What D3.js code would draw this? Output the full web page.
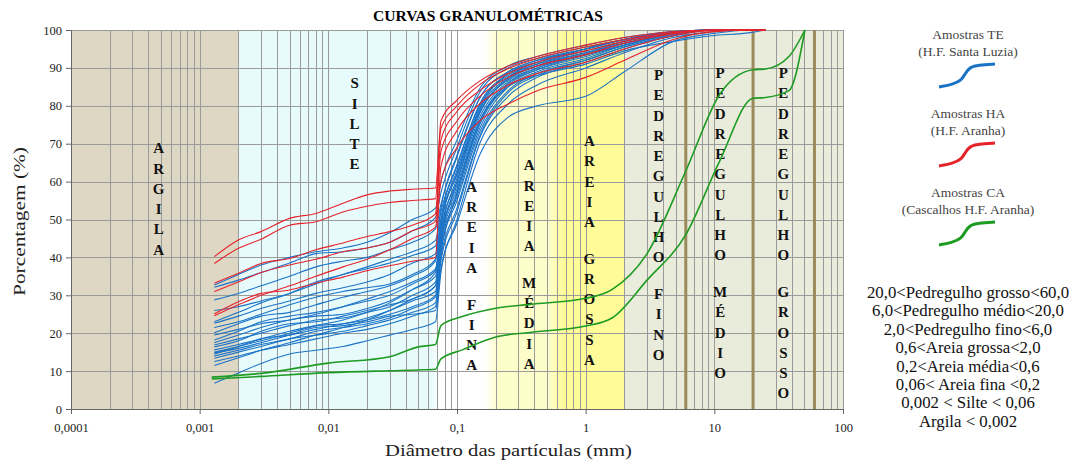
<!DOCTYPE html>
<html lang="pt">
<head>
<meta charset="UTF-8">
<title>Curvas granulométricas</title>
<script src="https://cdn.jsdelivr.net/npm/d3@7"></script>
<style>
  body { margin: 0; background: #fff; }
  svg text { font-family: "Liberation Serif", "DejaVu Serif", serif; }
</style>
</head>
<body>
<svg id="chart" width="1077" height="461"></svg>
<script>
// diametros (mm) das leituras - amostras TE e HA
const diam = [0.0013, 0.002, 0.003, 0.005, 0.008, 0.013, 0.02, 0.03, 0.045, 0.068, 0.075,
              0.1, 0.15, 0.25, 0.42, 1.0, 2.0, 4.8, 9.5, 19, 25];

// Amostras TE (H.F. Santa Luzia) - % passante
const amostrasTE = [
  [32.7, 35.5, 38.0, 40.0, 41.5, 42.5, 44.0, 46.5, 50.0, 53.0, 60.0, 71.0, 84.5, 90.5, 93.0, 96.0, 98.0, 99.6, 100, 100, 100],
  [32.1, 34.0, 36.0, 38.5, 41.0, 41.5, 42.5, 44.0, 47.0, 50.5, 57.0, 69.0, 83.5, 90.0, 92.5, 95.5, 97.5, 99.5, 100, 100, 100],
  [28.8, 30.5, 32.5, 35.0, 37.5, 39.0, 40.0, 42.0, 44.0, 47.5, 54.0, 66.5, 82.0, 89.0, 92.0, 95.0, 97.5, 99.5, 100, 100, 100],
  [23.0, 25.5, 28.0, 30.5, 33.5, 35.5, 37.5, 39.5, 41.5, 44.5, 52.0, 64.5, 80.5, 88.5, 91.5, 95.0, 97.5, 99.3, 100, 100, 100],
  [22.6, 24.5, 26.5, 28.5, 30.5, 32.0, 33.5, 35.5, 38.5, 41.0, 50.0, 62.0, 78.5, 87.0, 90.5, 94.0, 96.5, 99.0, 100, 100, 100],
  [20.1, 22.5, 24.5, 25.5, 27.5, 29.5, 31.0, 32.5, 35.0, 39.0, 49.0, 63.0, 79.5, 88.5, 91.5, 95.0, 97.5, 99.5, 100, 100, 100],
  [18.2, 20.5, 23.0, 24.5, 25.5, 27.0, 28.5, 30.0, 33.0, 36.5, 47.0, 60.0, 77.0, 86.5, 90.0, 93.5, 96.5, 99.0, 100, 100, 100],
  [17.5, 19.5, 21.5, 23.5, 24.5, 25.0, 26.5, 28.5, 31.5, 35.0, 46.0, 61.0, 78.0, 87.5, 91.0, 94.5, 97.0, 99.2, 100, 100, 100],
  [16.9, 18.5, 20.0, 22.0, 23.5, 24.0, 25.5, 27.0, 30.0, 33.5, 45.0, 58.0, 76.0, 86.0, 89.5, 93.0, 96.0, 99.0, 100, 100, 100],
  [16.4, 18.0, 20.5, 22.5, 23.0, 24.5, 26.0, 27.5, 29.0, 32.5, 44.0, 57.0, 75.0, 85.5, 89.5, 93.5, 96.5, 99.0, 100, 100, 100],
  [15.6, 17.0, 18.5, 20.5, 22.0, 22.5, 24.0, 26.0, 28.5, 31.0, 43.0, 56.0, 74.0, 85.0, 89.0, 92.5, 96.0, 98.7, 100, 100, 100],
  [14.5, 16.5, 18.5, 19.5, 21.0, 22.5, 23.5, 25.0, 27.0, 30.0, 42.0, 55.0, 73.0, 84.0, 88.5, 92.0, 95.5, 98.5, 100, 100, 100],
  [14.0, 15.5, 17.0, 18.5, 20.5, 21.5, 22.5, 24.0, 26.5, 29.5, 41.0, 57.0, 75.5, 86.0, 90.0, 93.5, 96.0, 99.0, 100, 100, 100],
  [13.4, 15.0, 16.5, 18.5, 19.5, 20.5, 22.0, 23.5, 25.5, 28.0, 40.0, 53.0, 72.0, 83.5, 88.0, 92.0, 95.5, 98.5, 100, 100, 100],
  [12.5, 14.0, 15.5, 17.0, 18.5, 20.0, 21.0, 22.5, 24.5, 27.0, 39.0, 52.0, 71.5, 82.5, 87.5, 91.5, 95.0, 98.5, 100, 100, 100],
  [6.8, 9.5, 12.0, 14.5, 15.5, 16.5, 18.0, 19.5, 21.0, 23.0, 36.0, 50.0, 70.0, 80.5, 85.5, 90.0, 94.0, 98.0, 99.5, 100, 100],
  [14.8, 16.0, 17.5, 19.5, 21.5, 22.0, 23.0, 24.5, 25.0, 26.0, 37.0, 49.0, 67.0, 77.0, 80.0, 82.5, 89.0, 97.0, 99.0, 100, 100],
  [19.5, 21.0, 22.5, 23.5, 25.0, 27.0, 29.0, 31.0, 33.5, 37.0, 46.0, 59.0, 76.0, 85.0, 88.0, 91.0, 94.5, 97.0, 98.5, 99.3, 100],
  [21.5, 23.0, 25.0, 27.5, 29.5, 31.0, 32.0, 33.0, 35.5, 39.5, 50.0, 64.0, 80.0, 88.0, 91.0, 94.0, 97.0, 99.5, 100, 100, 100],
  [26.0, 27.0, 28.5, 30.5, 33.0, 35.5, 37.0, 38.5, 40.5, 43.0, 53.0, 67.0, 82.0, 89.0, 92.0, 95.0, 97.5, 99.5, 100, 100, 100],
  [11.5, 13.5, 15.5, 17.5, 19.5, 21.5, 23.5, 26.0, 29.0, 32.5, 44.0, 60.0, 78.0, 87.0, 90.5, 94.0, 96.5, 99.0, 100, 100, 100],
  [15.0, 16.5, 18.0, 20.0, 22.0, 23.5, 25.5, 28.0, 31.5, 36.0, 48.0, 62.0, 79.0, 87.5, 90.5, 93.5, 96.0, 99.0, 100, 100, 100]
];

// Amostras HA (H.F. Aranha)
const amostrasHA = [
  [40.2, 44.6, 46.8, 50.3, 51.6, 54.3, 56.5, 57.5, 58.0, 58.3, 74.0, 80.0, 85.6, 89.8, 92.5, 95.5, 97.5, 99.3, 100, 100, 100],
  [38.4, 42.4, 44.8, 48.5, 49.4, 52.0, 53.5, 54.5, 55.0, 55.5, 76.0, 81.5, 86.5, 90.5, 93.0, 96.0, 98.0, 99.6, 100, 100, 100],
  [33.2, 35.8, 38.4, 39.7, 42.0, 43.8, 45.5, 46.8, 48.5, 51.5, 71.0, 78.5, 84.0, 88.5, 91.5, 94.5, 97.0, 99.0, 100, 100, 100],
  [31.0, 33.5, 36.0, 38.0, 39.5, 41.5, 42.5, 44.0, 47.0, 49.5, 68.0, 76.0, 82.5, 87.5, 90.5, 93.5, 96.5, 99.0, 100, 100, 100],
  [25.1, 28.3, 30.5, 31.4, 33.2, 34.8, 36.5, 37.8, 39.0, 40.0, 64.0, 73.5, 80.5, 85.5, 88.5, 91.5, 95.0, 98.5, 99.8, 100, 100],
  [24.6, 27.5, 30.0, 32.5, 35.0, 37.5, 39.5, 42.0, 45.0, 48.0, 60.0, 69.0, 76.0, 80.5, 84.0, 87.5, 92.0, 97.5, 99.5, 100, 100]
];

// Amostras CA (Cascalhos H.F. Aranha)
const diamCA = [0.00124, 0.003, 0.01, 0.03, 0.05, 0.068, 0.075, 0.11, 0.2, 0.37, 1.0, 1.6, 3.0, 6.0, 11, 20, 25, 38, 50.6];
const amostrasCA = [
  [8.4, 9.4, 12.1, 13.8, 16.4, 17.0, 22.0, 24.4, 26.6, 27.6, 29.2, 31.5, 41.0, 62.8, 83.0, 89.5, 89.7, 93.0, 100],
  [7.9, 8.6, 9.6, 10.1, 10.3, 10.5, 13.2, 15.6, 19.0, 20.2, 21.9, 24.0, 34.0, 46.0, 65.4, 82.0, 82.2, 84.0, 100]
];

// faixas granulometricas (mm)
const faixaNomes = ["ARGILA", "SILTE", "AREIA FINA", "AREIA MÉDIA", "AREIA GROSSA",
                    "PEDREGULHO FINO", "PEDREGULHO MÉDIO", "PEDREGULHO GROSSO"];
const faixaLimites = [0.0001, 0.002, 0.07, 0.2, 0.6, 2, 6, 20, 60, 100];
const limitesPedregulho = [6, 20, 60];

const xTicks = [0.0001, 0.001, 0.01, 0.1, 1, 10, 100];
const xTickLabels = ["0,0001", "0,001", "0,01", "0,1", "1", "10", "100"];
const yTicks = [0, 10, 20, 30, 40, 50, 60, 70, 80, 90, 100];

const legendaTitulos = [
  ["Amostras TE", "(H.F. Santa Luzia)"],
  ["Amostras HA", "(H.F. Aranha)"],
  ["Amostras CA", "(Cascalhos H.F. Aranha)"]
];
const classificacao = [
  "20,0<Pedregulho grosso<60,0",
  "6,0<Pedregulho médio<20,0",
  "2,0<Pedregulho fino<6,0",
  "0,6<Areia grossa<2,0",
  "0,2<Areia média<0,6",
  "0,06< Areia fina <0,2",
  "0,002 < Silte <  0,06",
  "Argila < 0,002"
];

// ---------- layout ----------
const FONTE = "Liberation Serif, DejaVu Serif, serif";
const margin = {left: 71, right: 843, top: 30, bottom: 409};
const corTE = "#1b73c6", corHA = "#e6232b", corCA = "#1e9b22";
const corFaixa = ["#ddd7c4", "#e8fbfc", "#ffffff", "#fdfdca", "#fefb98", "#e9ecdb", "#e9ecdb", "#e9ecdb"];
// posicao dos rotulos verticais (diametro, % da primeira letra)
const rotuloPos = [[0.00048, 68.9], [0.016, 86], [0.13, 58.7], [0.364, 64.4], [1.07, 70.8],
                   [3.69, 88.2], [11.1, 88.7], [34.4, 88.7]];

const svg = d3.select("#chart").attr("font-family", FONTE);
const x = d3.scaleLog().domain([0.0001, 100]).range([margin.left, margin.right]);
const y = d3.scaleLinear().domain([0, 100]).range([margin.bottom, margin.top]);
const pTop = margin.top, pBottom = margin.bottom, pLeft = margin.left, pRight = margin.right;

const defs = svg.append("defs");
defs.append("clipPath").attr("id", "plotClip")
  .append("rect").attr("x", pLeft).attr("y", pTop - 1).attr("width", pRight - pLeft).attr("height", pBottom - pTop + 2);

function gradiente(id, c1, c2) {
  const g = defs.append("linearGradient").attr("id", id).attr("x1", "0%").attr("x2", "100%");
  g.append("stop").attr("offset", "0%").attr("stop-color", c1);
  g.append("stop").attr("offset", "100%").attr("stop-color", c2);
}
gradiente("gSilteFina", corFaixa[1], "#ffffff");
gradiente("gFinaMedia", "#ffffff", corFaixa[3]);
gradiente("gMediaGrossa", corFaixa[3], corFaixa[4]);

// faixas de fundo
const fundo = svg.append("g");
faixaNomes.forEach((n, i) => {
  fundo.append("rect")
    .attr("x", x(faixaLimites[i])).attr("y", pTop)
    .attr("width", x(faixaLimites[i + 1]) - x(faixaLimites[i]))
    .attr("height", pBottom - pTop)
    .attr("fill", corFaixa[i]);
});
fundo.append("rect").attr("x", x(60)).attr("y", pTop).attr("width", x(100) - x(60))
  .attr("height", pBottom - pTop).attr("fill", corFaixa[7]);
// transicoes suaves
[[0.062, 0.074, "gSilteFina"], [0.165, 0.205, "gFinaMedia"], [0.52, 0.68, "gMediaGrossa"]].forEach(t => {
  fundo.append("rect").attr("x", x(t[0])).attr("y", pTop)
    .attr("width", x(t[1]) - x(t[0])).attr("height", pBottom - pTop)
    .attr("fill", `url(#${t[2]})`);
});

// grade
const grade = svg.append("g").attr("stroke", "#9a9a9a").attr("stroke-width", 1);
const minor = [];
for (let e = -4; e <= 1; e++) for (let k = 1; k <= 9; k++) minor.push(k * Math.pow(10, e));
minor.push(100);
grade.selectAll("line.v").data(minor).join("line").attr("class", "v")
  .attr("x1", d => Math.round(x(d)) + 0.5).attr("x2", d => Math.round(x(d)) + 0.5)
  .attr("y1", pTop).attr("y2", pBottom);
grade.selectAll("line.h").data(yTicks).join("line").attr("class", "h")
  .attr("x1", pLeft).attr("x2", pRight)
  .attr("y1", d => Math.round(y(d)) + 0.5).attr("y2", d => Math.round(y(d)) + 0.5);

svg.append("g").selectAll("line").data(limitesPedregulho).join("line")
  .attr("x1", d => x(d)).attr("x2", d => x(d)).attr("y1", pTop).attr("y2", pBottom)
  .attr("stroke", "#9a8a5c").attr("stroke-width", 3);

// rotulos verticais das faixas
const rot = svg.append("g").attr("font-weight", "bold").attr("font-size", 15).attr("fill", "#111")
  .attr("text-anchor", "middle");
faixaNomes.forEach((nome, i) => {
  let yy = y(rotuloPos[i][1]);
  const cx = x(rotuloPos[i][0]);
  for (const ch of nome) {
    if (ch === " ") { yy += 16.4; continue; }
    rot.append("text").attr("font-family", FONTE).attr("x", cx).attr("y", yy).attr("dy", "0.36em").text(ch);
    yy += 20.25;
  }
});

// curvas
const linha = d3.line().x(d => x(d[0])).y(d => y(d[1])).curve(d3.curveMonotoneX);
const curvas = svg.append("g").attr("clip-path", "url(#plotClip)").attr("fill", "none");
curvas.selectAll("path.te").data(amostrasTE).join("path").attr("class", "te")
  .attr("d", v => linha(diam.map((d, i) => [d, v[i]])))
  .attr("stroke", corTE).attr("stroke-width", 1.1);
curvas.selectAll("path.ha").data(amostrasHA).join("path").attr("class", "ha")
  .attr("d", v => linha(diam.map((d, i) => [d, v[i]])))
  .attr("stroke", corHA).attr("stroke-width", 1.1);
curvas.selectAll("path.ca").data(amostrasCA).join("path").attr("class", "ca")
  .attr("d", v => linha(diamCA.map((d, i) => [d, v[i]])))
  .attr("stroke", corCA).attr("stroke-width", 1.6);

// eixos
const eixoY = svg.append("g").attr("transform", `translate(${pLeft},0)`)
  .call(d3.axisLeft(y).tickValues(yTicks).tickSize(5).tickPadding(4));
const eixoX = svg.append("g").attr("transform", `translate(0,${pBottom})`)
  .call(d3.axisBottom(x).tickValues(xTicks).tickFormat((d, i) => xTickLabels[i]).tickSize(5).tickPadding(9));
[eixoY, eixoX].forEach(g => {
  g.attr("font-family", FONTE);
  g.select(".domain").attr("stroke", "#666");
  g.selectAll(".tick line").attr("stroke", "#666");
  g.selectAll("text").attr("font-family", FONTE).attr("font-size", 12.5).attr("fill", "#222");
});

// titulos
svg.append("text").attr("x", 488).attr("y", 21).attr("text-anchor", "middle")
  .attr("font-family", FONTE).attr("font-weight", "bold").attr("font-size", 14)
  .attr("textLength", 230).attr("lengthAdjust", "spacingAndGlyphs")
  .text("CURVAS GRANULOMÉTRICAS");
svg.append("text").attr("transform", "translate(25,221.5) rotate(-90)").attr("text-anchor", "middle")
  .attr("font-family", FONTE).attr("font-size", 16).attr("fill", "#222")
  .attr("textLength", 149).attr("lengthAdjust", "spacingAndGlyphs")
  .text("Porcentagem (%)");
svg.append("text").attr("x", 508.5).attr("y", 456).attr("text-anchor", "middle")
  .attr("font-family", FONTE).attr("font-size", 17).attr("fill", "#222")
  .attr("textLength", 247).attr("lengthAdjust", "spacingAndGlyphs")
  .text("Diâmetro das partículas (mm)");

// legenda
const lx = 968;
const glifo = [[0, 0], [0.25, 0.12], [0.4, 0.28], [0.47, 0.6], [0.55, 0.86], [0.7, 0.95], [1, 1]];
const gx = d3.scaleLinear().domain([0, 1]).range([939, 995]);
const leg = svg.append("g");
const corLeg = [corTE, corHA, corCA];
const legTopo = [39, 118, 197];
legendaTitulos.forEach((t, i) => {
  leg.append("text").attr("x", lx).attr("y", legTopo[i]).attr("text-anchor", "middle")
    .attr("font-family", FONTE).attr("font-size", 13.5).attr("fill", "#444").text(t[0]);
  leg.append("text").attr("x", lx).attr("y", legTopo[i] + 17).attr("text-anchor", "middle")
    .attr("font-family", FONTE).attr("font-size", 13.5).attr("fill", "#444").text(t[1]);
  const gy = d3.scaleLinear().domain([0, 1]).range([legTopo[i] + 48, legTopo[i] + 25]);
  leg.append("path")
    .attr("d", d3.line().x(d => gx(d[0])).y(d => gy(d[1])).curve(d3.curveBasis)(glifo))
    .attr("fill", "none").attr("stroke", corLeg[i]).attr("stroke-width", 3);
});

svg.append("g").selectAll("text").data(classificacao).join("text")
  .attr("x", lx).attr("y", (d, i) => 298 + i * 18.4).attr("text-anchor", "middle")
  .attr("font-family", FONTE).attr("font-size", 16.8).attr("fill", "#111").text(d => d);
</script>
</body>
</html>
